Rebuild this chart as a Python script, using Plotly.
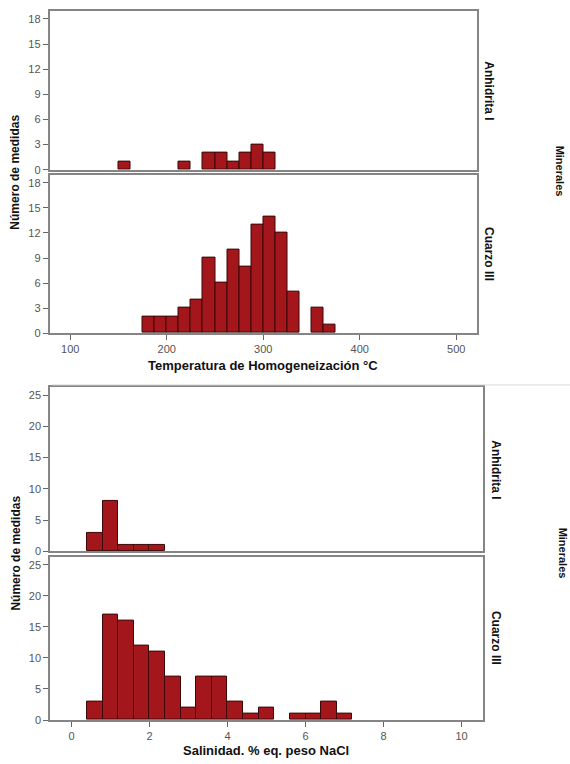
import plotly.graph_objects as go

# ---------------- data ----------------
temp_bin_width = 12.5
temp_anh_left = [150, 212.5, 237.5, 250, 262.5, 275, 287.5, 300]
temp_anh_count = [1, 1, 2, 2, 1, 2, 3, 2]
temp_cz_left = [175, 187.5, 200, 212.5, 225, 237.5, 250, 262.5, 275, 287.5,
                300, 312.5, 325, 337.5, 350, 362.5]
temp_cz_count = [2, 2, 2, 3, 4, 9, 6, 10, 8, 13, 14, 12, 5, 0, 3, 1]

sal_bin_width = 0.4
sal_anh_left = [0.4, 0.8, 1.2, 1.6, 2.0]
sal_anh_count = [3, 8, 1, 1, 1]
sal_cz_left = [0.4, 0.8, 1.2, 1.6, 2.0, 2.4, 2.8, 3.2, 3.6, 4.0, 4.4, 4.8,
               5.2, 5.6, 6.0, 6.4, 6.8]
sal_cz_count = [3, 17, 16, 12, 11, 7, 2, 7, 7, 3, 1, 2, 0, 1, 1, 3, 1]

temp_xticks = [100, 200, 300, 400, 500]
temp_yticks = [0, 3, 6, 9, 12, 15, 18]
sal_xticks = [0, 2, 4, 6, 8, 10]
sal_yticks = [0, 5, 10, 15, 20, 25]

panel_labels = ["Anhidrita I", "Cuarzo III"]
temp_title = "Temperatura de Homogeneización °C"
sal_title = "Salinidad. % eq. peso NaCl"
y_title = "Número de medidas"
facet_title = "Minerales"

# ---------------- style ----------------
W, H = 570, 764
BAR = "#A3161B"
EDGE = "#3a0808"
FRAME = "#858585"
FONT = "Liberation Sans"


def px(x):
    return x / W


def py(y):
    return 1 - y / H


def bars(left, count, width, xa, ya):
    xs = [l + width / 2 for l, c in zip(left, count) if c > 0]
    ys = [c for c in count if c > 0]
    return go.Bar(x=xs, y=ys, width=width, xaxis=xa, yaxis=ya,
                  marker=dict(color=BAR, line=dict(color=EDGE, width=1)),
                  showlegend=False, hoverinfo="x+y")


fig = go.Figure()
fig.add_trace(bars(temp_anh_left, temp_anh_count, temp_bin_width, "x", "y"))
fig.add_trace(bars(temp_cz_left, temp_cz_count, temp_bin_width, "x2", "y2"))
fig.add_trace(bars(sal_anh_left, sal_anh_count, sal_bin_width, "x3", "y3"))
fig.add_trace(bars(sal_cz_left, sal_cz_count, sal_bin_width, "x4", "y4"))

tickfont = dict(family=FONT, size=11, color="#555555")
frame = dict(showline=True, linecolor=FRAME, linewidth=1.5, mirror=True,
             showgrid=False, zeroline=False)
ticked = dict(ticks="outside", ticklen=5, tickcolor="#666666", tickwidth=1,
              tickfont=tickfont)

top_dom_x = [px(49.5), px(477)]
bot_dom_x = [px(50), px(483)]
temp_range = [78.5, 521.5]
sal_range = [-0.55, 10.55]

fig.update_layout(
    width=W, height=H,
    margin=dict(l=0, r=0, t=0, b=0),
    plot_bgcolor="white", paper_bgcolor="white",
    bargap=0,
    xaxis=dict(domain=top_dom_x, range=temp_range, anchor="y",
               showticklabels=False, ticks="", **frame),
    yaxis=dict(domain=[py(171), py(10.7)], range=[0, 19], anchor="x",
               tickvals=temp_yticks, **frame, **ticked),
    xaxis2=dict(domain=top_dom_x, range=temp_range, anchor="y2",
                tickvals=temp_xticks, **frame, **ticked),
    yaxis2=dict(domain=[py(335.7), py(176)], range=[0, 19], anchor="x2",
                tickvals=temp_yticks, **frame, **ticked),
    xaxis3=dict(domain=bot_dom_x, range=sal_range, anchor="y3",
                showticklabels=False, ticks="", **frame),
    yaxis3=dict(domain=[py(555.7), py(390)], range=[0, 26.3], anchor="x3",
                tickvals=sal_yticks, **frame, **ticked),
    xaxis4=dict(domain=bot_dom_x, range=sal_range, anchor="y4",
                tickvals=sal_xticks, **frame, **ticked),
    yaxis4=dict(domain=[py(725.7), py(561)], range=[0, 26.3], anchor="x4",
                tickvals=sal_yticks, **frame, **ticked),
)

bold = dict(family=FONT, color="#111111", weight="bold")
ann = []
# x axis titles
ann.append(dict(x=px(263), y=py(368), text=temp_title, font=dict(size=13, **bold)))
ann.append(dict(x=px(266), y=py(756), text=sal_title, font=dict(size=13, **bold)))
# y axis titles
ann.append(dict(x=px(15), y=py(174), text=y_title, textangle=-90, font=dict(size=12, **bold)))
ann.append(dict(x=px(16), y=py(558), text=y_title, textangle=-90, font=dict(size=12, **bold)))
# panel labels
ann.append(dict(x=px(489), y=py(91), text=panel_labels[0], textangle=90, font=dict(size=12, **bold)))
ann.append(dict(x=px(489), y=py(256), text=panel_labels[1], textangle=90, font=dict(size=12, **bold)))
ann.append(dict(x=px(496), y=py(473), text=panel_labels[0], textangle=90, font=dict(size=12, **bold)))
ann.append(dict(x=px(496), y=py(643), text=panel_labels[1], textangle=90, font=dict(size=12, **bold)))
# facet titles
ann.append(dict(x=px(560), y=py(172), text=facet_title, textangle=90, font=dict(size=11, **bold)))
ann.append(dict(x=px(563), y=py(557), text=facet_title, textangle=90, font=dict(size=11, **bold)))

for a in ann:
    a.update(xref="paper", yref="paper", showarrow=False, xanchor="center", yanchor="middle")
fig.update_layout(annotations=ann)

# faint separator between the two images
fig.add_shape(type="line", xref="paper", yref="paper", x0=px(52), x1=1, y0=py(388), y1=py(388),
              line=dict(color="#d8d8d8", width=1))

fig.write_html("out.html", config={"displayModeBar": False},
               post_script="document.body.style.margin='0';document.body.style.overflow='hidden';")
